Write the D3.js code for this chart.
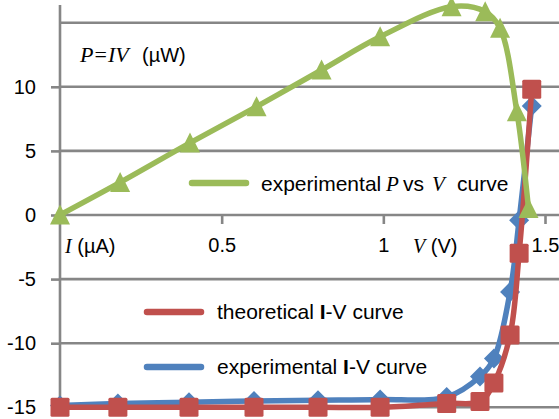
<!DOCTYPE html>
<html>
<head>
<meta charset="utf-8">
<script src="https://cdn.jsdelivr.net/npm/d3@7"></script>
<style>
  body { margin: 0; background: #fff; }
  svg { display: block; }
  text { font-family: "Liberation Sans", Arial, sans-serif; fill: #000; }
  .math { font-family: "Liberation Serif", "Times New Roman", serif; font-style: italic; }
</style>
</head>
<body>
<svg id="chart" width="559" height="419"></svg>
<script>
// data
var voltsPV = [0, 0.186, 0.402, 0.608, 0.809, 0.99, 1.211, 1.315, 1.361, 1.413, 1.449];
var powerPV = [0, 2.54, 5.62, 8.45, 11.31, 13.9, 16.25, 15.86, 14.56, 8.06, 0.5];

var voltsIV = [0, 0.179, 0.399, 0.6, 0.798, 0.99, 1.196, 1.299, 1.342, 1.392, 1.42, 1.459];
var theoryI = [-15.0, -15.0, -15.0, -15.0, -15.0, -15.0, -14.7, -14.55, -13.1, -9.36, -2.99, 9.8];
var exptI   = [-14.85, -14.7, -14.6, -14.5, -14.45, -14.4, -14.2, -12.6, -11.2, -6.0, -0.4, 8.5];

var xTicks = [0.5, 1, 1.5];
var yTicks = [-15, -10, -5, 0, 5, 10];
var yGrid = [-15, -10, -5, 5, 10, 15];

var green = "#9BBB59", red = "#C0504D", blue = "#4F81BD", grid = "#868686";

var svg = d3.select("#chart");
var x = d3.scaleLinear().domain([0, 1.5]).range([60, 545]);
var y = d3.scaleLinear().domain([-15, 15]).range([407.3, 22.7]);

// grid lines
svg.append("g").selectAll("line").data(yGrid).enter().append("line")
    .attr("x1", x(0)).attr("x2", 559)
    .attr("y1", function(d) { return y(d); }).attr("y2", function(d) { return y(d); })
    .attr("stroke", grid).attr("stroke-width", 2.6);

// y axis
var yAxis = svg.append("g").attr("transform", "translate(" + x(0) + ",0)")
    .call(d3.axisLeft(y).tickValues(yTicks).tickSize(9).tickPadding(15).tickFormat(d3.format("d")));
yAxis.select(".domain").remove();
yAxis.selectAll(".tick line").attr("stroke", grid).attr("stroke-width", 2.6);
yAxis.selectAll("text").style("font-size", "20px").attr("fill", "#000");
yAxis.selectAll("text").text(function(d) { return d < 0 ? "-" + Math.abs(d) : d; });
svg.append("line").attr("x1", x(0)).attr("x2", x(0)).attr("y1", 5).attr("y2", y(-15))
    .attr("stroke", grid).attr("stroke-width", 2.6);

// x axis on zero line
var xAxis = svg.append("g").attr("transform", "translate(0," + y(0) + ")")
    .call(d3.axisBottom(x).tickValues(xTicks).tickSize(9).tickPadding(14).tickFormat(function(d) { return d; }));
xAxis.select(".domain").remove();
svg.append("line").attr("x1", x(0)).attr("x2", 559).attr("y1", y(0)).attr("y2", y(0))
    .attr("stroke", grid).attr("stroke-width", 2.6);
xAxis.selectAll(".tick line").attr("stroke", grid).attr("stroke-width", 2.6);
xAxis.selectAll("text").style("font-size", "20px").attr("fill", "#000");

// axis titles
var t1 = svg.append("text").attr("x", 65).attr("y", 253).style("font-size", "20px");
t1.append("tspan").attr("class", "math").text("I");
t1.append("tspan").text(" (\u00b5A)");
var t2 = svg.append("text").attr("x", 413).attr("y", 253).style("font-size", "20px");
t2.append("tspan").attr("class", "math").text("V");
t2.append("tspan").text(" (V)");
var t3 = svg.append("text").attr("x", 80).attr("y", 62).style("font-size", "20px");
t3.append("tspan").attr("class", "math").style("font-size", "22px").text("P");
t3.append("tspan").attr("class", "math").attr("dx", 1).style("font-size", "22px").style("font-style", "normal").text("=");
t3.append("tspan").attr("class", "math").attr("dx", 1).style("font-size", "22px").text("IV");
t3.append("tspan").attr("x", 142).text("(\u00b5W)");

// series
var line = d3.line().curve(d3.curveCatmullRom.alpha(0.5))
    .x(function(d) { return x(d[0]); }).y(function(d) { return y(d[1]); });

var bluePts = d3.zip(voltsIV, exptI);
var redPts = d3.zip(voltsIV, theoryI);
var greenPts = d3.zip(voltsPV, powerPV);

svg.append("path").datum(bluePts).attr("d", line).attr("fill", "none")
    .attr("stroke", blue).attr("stroke-width", 5.5).attr("stroke-linejoin", "round");
svg.append("g").selectAll("path").data(bluePts).enter().append("path")
    .attr("transform", function(d) { return "translate(" + x(d[0]) + "," + y(d[1]) + ")"; })
    .attr("d", "M0,-10L10,0L0,10L-10,0Z").attr("fill", blue);

svg.append("path").datum(redPts).attr("d", line).attr("fill", "none")
    .attr("stroke", red).attr("stroke-width", 5.5).attr("stroke-linejoin", "round");
svg.append("g").selectAll("rect").data(redPts).enter().append("rect")
    .attr("x", function(d) { return x(d[0]) - 9.5; }).attr("y", function(d) { return y(d[1]) - 9.5; })
    .attr("width", 19).attr("height", 19).attr("rx", 1.5).attr("fill", red);

svg.append("path").datum(greenPts).attr("d", line).attr("fill", "none")
    .attr("stroke", green).attr("stroke-width", 5.5).attr("stroke-linejoin", "round");
svg.append("g").selectAll("path").data(greenPts).enter().append("path")
    .attr("transform", function(d) { return "translate(" + x(d[0]) + "," + y(d[1]) + ")"; })
    .attr("d", "M0,-10.5L10,9.5L-10,9.5Z").attr("fill", green);

// legend
function legendLine(x1, x2, yy, c) {
    svg.append("line").attr("x1", x1).attr("x2", x2).attr("y1", yy).attr("y2", yy)
        .attr("stroke", c).attr("stroke-width", 6.5).attr("stroke-linecap", "round");
}
legendLine(192, 246, 183, green);
legendLine(147, 201, 312, red);
legendLine(147, 201, 367, blue);

var lg = svg.append("text").attr("y", 191).style("font-size", "21px");
lg.append("tspan").attr("x", 261).text("experimental");
lg.append("tspan").attr("x", 386).attr("class", "math").text("P");
lg.append("tspan").attr("x", 403).text("vs");
lg.append("tspan").attr("x", 432).attr("class", "math").text("V");
lg.append("tspan").attr("x", 457).text("curve");

var lr = svg.append("text").attr("x", 217).attr("y", 319).style("font-size", "21px");
lr.append("tspan").text("theoretical ");
lr.append("tspan").style("font-weight", "bold").text("I");
lr.append("tspan").text("-V curve");

var lb = svg.append("text").attr("x", 217).attr("y", 374).style("font-size", "21px");
lb.append("tspan").text("experimental ");
lb.append("tspan").style("font-weight", "bold").text("I");
lb.append("tspan").text("-V curve");
</script>
</body>
</html>
